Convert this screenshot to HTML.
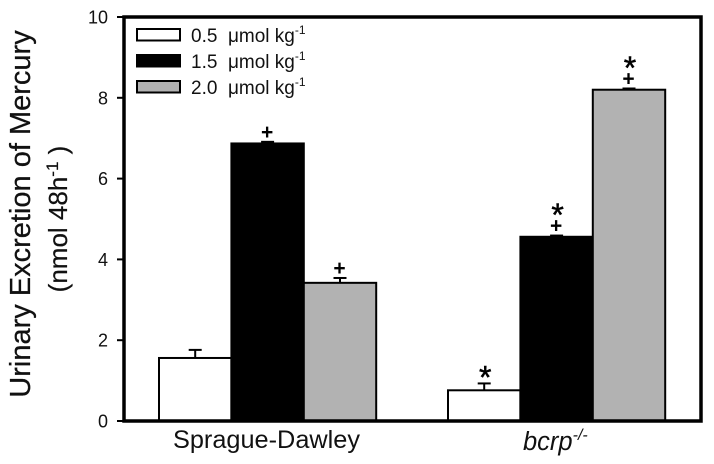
<!DOCTYPE html>
<html lang="en">
<head>
<meta charset="utf-8">
<title>Urinary Excretion of Mercury</title>
<style>
html,body{margin:0;padding:0;background:#fff;width:714px;height:464px;overflow:hidden}
svg{display:block}
text{font-family:"Liberation Sans",Arial,sans-serif;fill:#111}
</style>
</head>
<body>
<svg id="chart" xmlns="http://www.w3.org/2000/svg" width="714" height="464" viewBox="0 0 714 464">
  <rect x="0" y="0" width="714" height="464" fill="#fff"/>
  <g id="bars"></g>
  <rect x="124" y="17" width="577" height="404" fill="none" stroke="#000" stroke-width="3.5"/>
  <g id="yaxis"></g>
  <g id="xaxis"></g>
  <text transform="translate(30 214) rotate(-90)" text-anchor="middle" font-size="29" stroke="#111" stroke-width="0.25">Urinary Excretion of Mercury</text>
  <text transform="translate(67 219) rotate(-90)" text-anchor="middle" font-size="26" stroke="#111" stroke-width="0.2">(nmol 48h<tspan font-size="17" dy="-9">-1</tspan><tspan dy="9">&#160;)</tspan></text>
  <g id="legend"></g>
</svg>
<script>
const categories = ['Sprague-Dawley', 'bcrp'];
const seriesNames = ['0.5', '1.5', '2.0'];
const seriesLow = [1.56, 0.76];
const seriesMid = [6.87, 4.56];
const seriesHigh = [3.42, 8.2];
const errorLow = [0.2, 0.17];
const errorMid = [0.04, 0.03];
const errorHigh = [0.12, 0.03];
const marksLow = ['', '*'];
const marksMid = ['+', '+*'];
const marksHigh = ['+', '+*'];
const yTicks = [0, 2, 4, 6, 8, 10];

const NS = 'http://www.w3.org/2000/svg';
const fills = ['#fff', '#000', '#b2b2b2'];
const values = [seriesLow, seriesMid, seriesHigh];
const errors = [errorLow, errorMid, errorHigh];
const marks = [marksLow, marksMid, marksHigh];

function yScale(v) { return 421 - v * 40.4; }
function groupLeft(i) { return 159 + i * 289; }
const barWidth = 72.4;

function make(parent, tag, attrs, text) {
  const el = document.createElementNS(NS, tag);
  for (const k in attrs) el.setAttribute(k, attrs[k]);
  if (text !== undefined) el.textContent = text;
  parent.appendChild(el);
  return el;
}

const barsG = document.getElementById('bars');
values.forEach(function (series, s) {
  series.forEach(function (v, c) {
    const x = groupLeft(c) + s * barWidth;
    const cx = x + barWidth / 2;
    const y = yScale(v);
    const top = yScale(v + errors[s][c]);

    const stem = make(barsG, 'line', { x1: cx, x2: cx, y1: y, y2: top, stroke: '#000', 'stroke-width': 2 });
    
    

    const cap = make(barsG, 'line', { x1: cx - 6.5, x2: cx + 6.5, y1: top, y2: top, stroke: '#000', 'stroke-width': 2 });
    
    

    const bar = make(barsG, 'rect', { x: x, y: y, width: barWidth, height: 421 - y, fill: fills[s], stroke: '#000', 'stroke-width': 2 });
    
    

    const m = marks[s][c];
    if (m.indexOf('+') >= 0) {
      const plus = make(barsG, 'text', { x: cx - 0.5, y: top - 3, 'text-anchor': 'middle', 'font-size': 21, 'font-weight': 'bold', style: 'fill:#000' }, '+');
      
      
    }
    if (m.indexOf('*') >= 0) {
      const star = make(barsG, 'text', { x: cx + 1, y: top + (m.length > 1 ? -9.5 : 5), 'text-anchor': 'middle', 'font-size': 32, stroke: '#000', 'stroke-width': 0.5, style: 'fill:#000' }, '*');
      
      
    }
  });
});

const yG = document.getElementById('yaxis');
yTicks.forEach(function (t) {
  const y = yScale(t);
  const tick = make(yG, 'line', { x1: 117, x2: 124, y1: y, y2: y, stroke: '#000', 'stroke-width': 2 });
  
  
  const label = make(yG, 'text', { x: 108, y: y + 6.5, 'text-anchor': 'end', 'font-size': 18 }, String(t));
  
  
});

const xG = document.getElementById('xaxis');
const xa = make(xG, 'text', { x: 266.5, y: 448, 'text-anchor': 'middle', 'font-size': 25.3 }, categories[0]);


const xb = make(xG, 'text', { x: 523, y: 450, 'font-size': 25.5, 'font-style': 'italic' }, categories[1]);


const sup = make(xb, 'tspan', { dy: -10, 'font-size': 16 }, '-/-');



const legendG = document.getElementById('legend');
seriesNames.forEach(function (name, i) {
  const y = 29 + i * 26;
  const swatch = make(legendG, 'rect', { x: 137, y: y, width: 43, height: 11.5, fill: fills[i], stroke: '#000', 'stroke-width': 2 });
  
  
  const label = make(legendG, 'text', { x: 191, y: y + 13, 'font-size': 19 });
  
  
  make(label, 'tspan', {}, name + '\u00a0\u00a0\u03bcmol kg');
  make(label, 'tspan', { dy: -8, 'font-size': 12 }, '-1');
});
</script>
</body>
</html>
